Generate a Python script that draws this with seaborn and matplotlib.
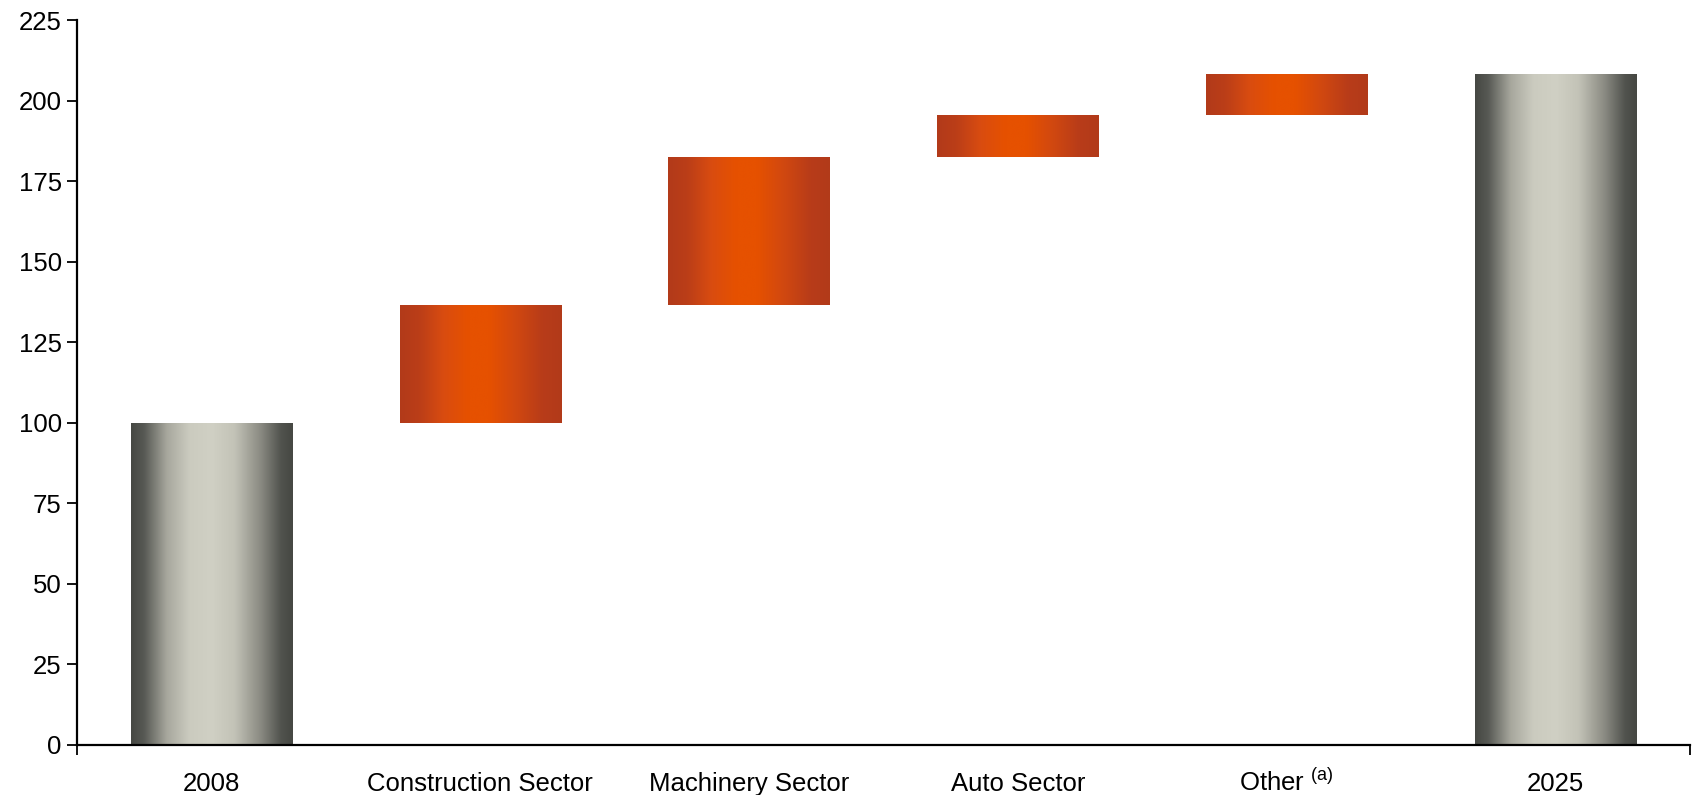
import numpy as np
import pandas as pd
import seaborn as sns
import matplotlib.pyplot as plt
from matplotlib.colors import LinearSegmentedColormap

# waterfall data
categories = ["2008", "Construction Sector", "Machinery Sector", "Auto Sector",
              "Other $^{\\rm (a)}$", "2025"]
start_value = 100.0
steps = [36.5, 46.0, 13.0, 12.8]
end_value = 208.3
is_total = [True, False, False, False, False, True]

# build bottoms / tops for each bar
bottoms = [0.0]
tops = [start_value]
level = start_value
for s in steps:
    bottoms.append(level)
    level += s
    tops.append(level)
bottoms.append(0.0)
tops.append(end_value)

df = pd.DataFrame({"category": categories, "top": tops, "bottom": bottoms})

sns.set_style("white")
plt.rcParams["font.family"] = ["Liberation Sans", "DejaVu Sans"]
plt.rcParams["mathtext.fontset"] = "custom"
plt.rcParams["mathtext.rm"] = "Liberation Sans"
plt.rcParams["text.color"] = "black"
plt.rcParams["xtick.color"] = "black"
plt.rcParams["ytick.color"] = "black"

gray_cmap = LinearSegmentedColormap.from_list("gray_grad", [
    (0.0, "#464843"), (0.08, "#575954"), (0.22, "#a7a79d"), (0.36, "#cbcbbf"),
    (0.5, "#d0d0c4"), (0.64, "#c3c3b7"), (0.8, "#8b8b83"), (0.93, "#50524d"),
    (1.0, "#464843")])
orange_cmap = LinearSegmentedColormap.from_list("orange_grad", [
    (0.0, "#b23a1a"), (0.12, "#bb3e18"), (0.27, "#d94c10"), (0.42, "#e65100"),
    (0.55, "#e65100"), (0.7, "#d3490f"), (0.88, "#b83c19"), (1.0, "#b23a1a")])

fig, ax = plt.subplots(figsize=(16.98, 7.95), dpi=100)
fig.subplots_adjust(left=0.0453, right=0.9953, bottom=0.0633, top=0.9745)

sns.barplot(data=df, x="category", y="top", width=0.6, color="white",
            linewidth=0, ax=ax)

grad = np.linspace(0, 1, 256).reshape(1, -1)
for patch, b, t, tot in zip(ax.patches, bottoms, tops, is_total):
    patch.set_y(b)
    patch.set_height(t - b)
    patch.set_facecolor("none")
    x0 = patch.get_x()
    w = patch.get_width()
    im = ax.imshow(grad, cmap=gray_cmap if tot else orange_cmap,
                   extent=[x0, x0 + w, b, t], aspect="auto", zorder=2,
                   interpolation="bicubic")
    im.set_clip_path(patch)

ax.set_xlim(-0.5, len(categories) - 0.5)
ax.set_ylim(0, 225)
ax.set_yticks(np.arange(0, 226, 25))
ax.set_xlabel("")
ax.set_ylabel("")

for side in ["top", "right"]:
    ax.spines[side].set_visible(False)
for side in ["left", "bottom"]:
    ax.spines[side].set_linewidth(1.6)
    ax.spines[side].set_color("black")

ax.tick_params(axis="y", which="major", length=7, width=1.3, labelsize=18.5,
               direction="out", left=True, pad=4, labelcolor="black")
ax.tick_params(axis="x", which="major", length=0, labelsize=18.5, pad=33,
               labelcolor="black")
# align all category labels on one baseline (the superscript one too)
for lab in ax.get_xticklabels():
    lab.set_verticalalignment("baseline")
# small ticks at the ends of the category axis
ax.set_xticks([-0.5, len(categories) - 0.5], minor=True)
ax.tick_params(axis="x", which="minor", length=7, width=1.3, bottom=True,
               direction="out")

fig.savefig("out.png", dpi=100)
